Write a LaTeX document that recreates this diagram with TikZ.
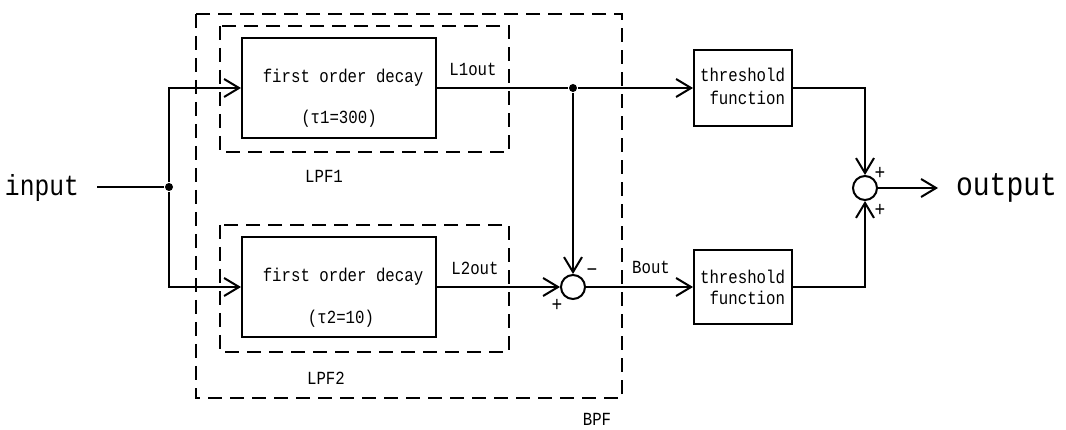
\documentclass[tikz,border=0pt]{standalone}
\usepackage{fontspec}
\setmainfont{Liberation Mono}[FakeStretch=0.85]
\usetikzlibrary{arrows.meta}
\begin{document}
\begin{tikzpicture}[x=1pt,y=-1pt,line width=2pt,
  blk/.style={draw,rectangle,inner sep=0pt},
  dbox/.style={draw,line width=2pt,dash pattern=on 14pt off 8pt},
  arr/.style={-{Straight Barb[length=15pt,width=18pt,line width=2pt]}},
  sm/.style={font=\fontsize{18.5}{20}\selectfont,inner sep=0pt},
  big/.style={font=\fontsize{33}{36}\selectfont,inner sep=0pt},
  sgn/.style={font=\fontsize{21}{22}\selectfont,inner sep=0pt},
  jdot/.style={circle,fill,inner sep=0pt,minimum size=8pt},
  sumc/.style={circle,draw,inner sep=0pt,minimum size=24pt}]
\useasboundingbox (0,0) rectangle (1066,430);
% dashed groups
\draw[dbox] (196,14) rectangle (622,398);
\draw[dbox] (220,26) rectangle (509,152);
\draw[dbox] (220,225) rectangle (509,352);
% blocks
\node[blk,minimum width=194pt,minimum height=100pt] (b1) at (339,88) {};
\node[blk,minimum width=194pt,minimum height=100pt] (b2) at (339,287) {};
\node[blk,minimum width=98pt,minimum height=76pt] (t1) at (743,88) {};
\node[blk,minimum width=98pt,minimum height=74pt] (t2) at (743,287) {};
\node[sumc] (d) at (573,287) {};
\node[sumc] (s) at (865,188) {};
\node[jdot] (j1) at (169,187) {};
\node[jdot] (j2) at (573,88) {};
% texts
\node[sm,anchor=base] (b1a) at (343,83) {first order decay};
\node[sm,anchor=base] (b1b) at (339,124) {(τ1=300)};
\node[sm,anchor=base] (b2a) at (343,281.7) {first order decay};
\node[sm,anchor=base] (b2b) at (341,323.3) {(τ2=10)};
\node[sm,anchor=base east] (t1a) at (786,81.7) {threshold};
\node[sm,anchor=base east] (t1b) at (786,104.3) {function};
\node[sm,anchor=base east] (t2a) at (786,283.3) {threshold};
\node[sm,anchor=base east] (t2b) at (786,305) {function};
\node[sm,anchor=base] (l1) at (473,76) {L1out};
\node[sm,anchor=base] (l2) at (475,274.3) {L2out};
\node[sm,anchor=base] (bo) at (651,273.3) {Bout};
\node[sm,anchor=base] (lp1) at (324,182.7) {LPF1};
\node[sm,anchor=base] (lp2) at (326,384.3) {LPF2};
\node[sm,anchor=base] (bp) at (597,425) {BPF};
\node[big,anchor=base west,font=\fontsize{29}{32}\selectfont] (in) at (4,196) {input};
\node[big,anchor=base west] (out) at (955,195.5) {output};
\node[sgn] (sp1) at (880,173) {+};
\node[sgn] (sp2) at (880,210) {+};
\node[sgn] (dm) at (592,273) {−};
\node[sgn] (dp) at (557,305) {+};
\coordinate (inend) at (97,187);
\coordinate (outend) at (938,188);
% wires
\draw (inend) -- (j1);
\draw[arr] (j1) |- (b1.west);
\draw[arr] (j1) |- (b2.west);
\draw (b1.east) -- (j2);
\draw[arr] (j2) -- (t1.west);
\draw[arr] (j2) -- (d.north);
\draw[arr] (b2.east) -- (d.west);
\draw[arr] (d.east) -- (t2.west);
\draw[arr] (t1.east) -| (s.north);
\draw[arr] (t2.east) -| (s.south);
\draw[arr] (s.east) -- (outend);
\end{tikzpicture}
\end{document}
